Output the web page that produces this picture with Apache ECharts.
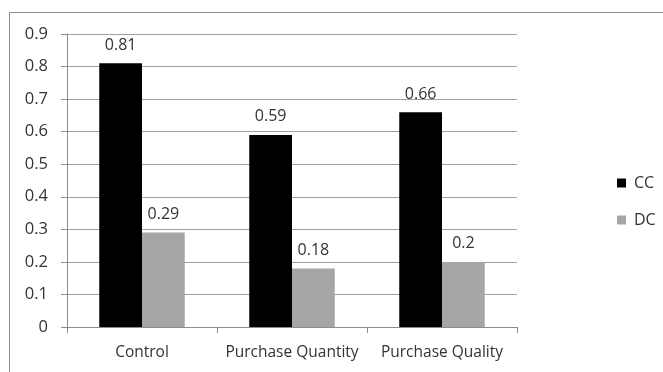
<!DOCTYPE html>
<html>
<head>
<meta charset="utf-8">
<script src="https://cdn.jsdelivr.net/npm/echarts@6/dist/echarts.min.js"></script>
<style>
  html, body { margin: 0; padding: 0; background: #fff; }
  #chart { width: 663px; height: 372px; }
</style>
</head>
<body>
<div id="chart"></div>
<script>
// Share of choices by treatment
const categories = ['Control', 'Purchase Quantity', 'Purchase Quality'];
const ccValues = [0.81, 0.59, 0.66];
const dcValues = [0.29, 0.18, 0.2];
const yTicks = { min: 0, max: 0.9, interval: 0.1 };

const textColor = '#333333';
const fontFamily = '"Open Sans", "Noto Sans", sans-serif';

const chart = echarts.init(document.getElementById('chart'), null, { renderer: 'canvas' });

chart.setOption({
  animation: false,
  backgroundColor: '#ffffff',
  textStyle: { fontFamily: fontFamily, color: textColor },
  graphic: [{
    type: 'rect',
    shape: { x: 9.5, y: 12.5, width: 700, height: 400 },
    style: { fill: 'none', stroke: '#8c8c8c', lineWidth: 1 },
    silent: true
  }],
  grid: { left: 67, right: 146, top: 34, bottom: 45 },
  legend: {
    orient: 'vertical',
    left: 612,
    top: 170,
    itemWidth: 9,
    itemHeight: 9,
    itemGap: 21,
    icon: 'rect',
    textStyle: { fontSize: 16, color: textColor, fontFamily: fontFamily, padding: [0, 0, 0, 3] },
    data: ['CC', 'DC']
  },
  xAxis: {
    type: 'category',
    data: categories,
    axisLine: { lineStyle: { color: '#8c8c8c', width: 1 } },
    axisTick: { show: true, length: 6, lineStyle: { color: '#8c8c8c' } },
    axisLabel: { interval: 0, fontSize: 15.5, color: textColor, margin: 18, fontFamily: fontFamily }
  },
  yAxis: {
    type: 'value',
    min: yTicks.min,
    max: yTicks.max,
    interval: yTicks.interval,
    axisLine: { show: true, lineStyle: { color: '#8c8c8c', width: 1 } },
    axisTick: { show: true, length: 6, lineStyle: { color: '#8c8c8c' } },
    axisLabel: {
      fontSize: 16.5, color: textColor, margin: 19, fontFamily: fontFamily,
      formatter: v => (Math.round(v * 10) / 10).toString()
    },
    splitLine: { show: true, lineStyle: { color: '#a0a0a0', width: 1 } }
  },
  series: [
    {
      name: 'CC',
      type: 'bar',
      data: ccValues,
      barGap: '0%',
      barCategoryGap: '43%',
      itemStyle: { color: '#000000' },
      label: { show: true, position: 'top', distance: 10, fontSize: 16, color: textColor, fontFamily: fontFamily }
    },
    {
      name: 'DC',
      type: 'bar',
      data: dcValues,
      itemStyle: { color: '#a6a6a6' },
      label: { show: true, position: 'top', distance: 10, fontSize: 16, color: textColor, fontFamily: fontFamily }
    }
  ]
});
</script>
</body>
</html>
